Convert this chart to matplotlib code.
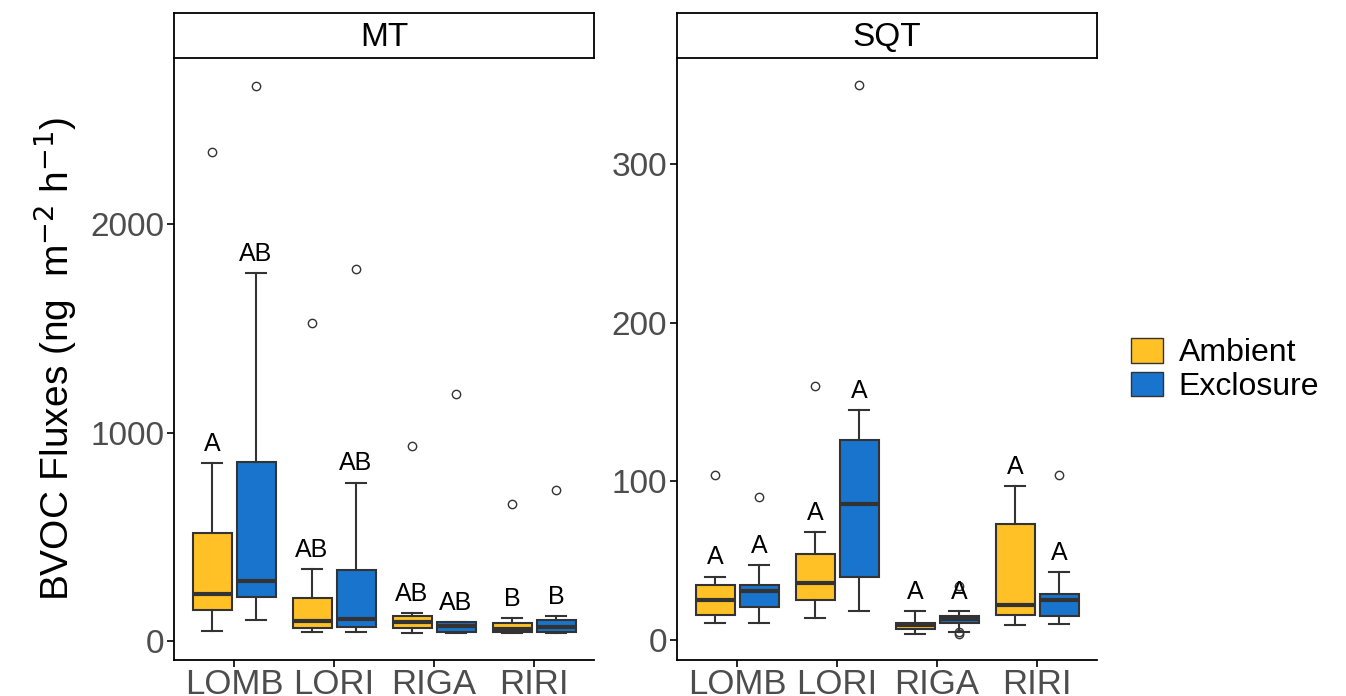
import matplotlib.pyplot as plt
from matplotlib.patches import Patch

plt.rcParams['font.family'] = ['Liberation Sans', 'DejaVu Sans']

sites = ['LOMB', 'LORI', 'RIGA', 'RIRI']
groups = ['Ambient', 'Exclosure']
colors = ['#FFC125', '#1874CD']

# per compound: [site][group] = (whislo, q1, med, q3, whishi, outliers)
mt_stats = [
    [(48, 150, 225, 520, 855, [2345]), (100, 210, 290, 860, 1765, [2660])],
    [(43, 62, 96, 205, 345, [1525]), (43, 67, 105, 340, 760, [1785])],
    [(38, 62, 91, 120, 135, [935]), (38, 43, 72, 91, 91, [1185])],
    [(38, 43, 57, 86, 110, [655]), (38, 43, 67, 100, 120, [725])],
]
mt_letters = [['A', 'AB'], ['AB', 'AB'], ['AB', 'AB'], ['B', 'B']]

sqt_stats = [
    [(11, 16, 25, 35, 40, [104]), (11, 21, 31, 35, 47, [90])],
    [(14, 25, 36, 54, 68, [160]), (18, 40, 86, 126, 145, [350])],
    [(4, 7, 9.5, 11, 18, []), (5, 11, 13, 15, 18, [34, 5, 4])],
    [(9.5, 16, 22, 73, 97, []), (10, 15, 25, 29, 43, [104])],
]
sqt_letters = [['A', 'A'], ['A', 'A'], ['A', 'A'], ['A', 'A']]

fig = plt.figure(figsize=(13.46, 6.96), dpi=100)
W, H = 1346, 696


def panel(x0, title, stats, letters, ylim, yticks, span):
    ax = fig.add_axes([x0 / W, 1 - 660 / H, 420 / W, 602 / H])
    sax = fig.add_axes([x0 / W, 1 - 58 / H, 420 / W, 45 / H])
    sax.set_xticks([]); sax.set_yticks([])
    for s in sax.spines.values():
        s.set_linewidth(1.3)
    sax.text(0.5, 0.45, title, ha='center', va='center', fontsize=24,
             transform=sax.transAxes)
    for i, site in enumerate(stats):
        for j, st in enumerate(site):
            lo, q1, med, q3, hi, fl = st
            pos = i + 1 + (j - 0.5) * 0.44
            ax.bxp([dict(whislo=lo, q1=q1, med=med, q3=q3, whishi=hi, fliers=fl)],
                   positions=[pos], widths=0.39, patch_artist=True,
                   boxprops=dict(facecolor=colors[j], edgecolor='#333333', linewidth=1.5),
                   medianprops=dict(color='#333333', linewidth=3),
                   whiskerprops=dict(color='#333333', linewidth=1.5),
                   capprops=dict(color='#333333', linewidth=1.5),
                   flierprops=dict(marker='o', markerfacecolor='none',
                                   markeredgecolor='#333333', markersize=6))
            ax.text(pos, hi + span * 0.012, letters[i][j], ha='center',
                    va='bottom', fontsize=18)
    ax.set_xlim(0.4, 4.6)
    ax.set_ylim(*ylim)
    ax.set_xticks(range(1, 5))
    ax.set_xticklabels(sites, fontsize=25, color='#4D4D4D')
    ax.set_yticks(yticks)
    ax.set_yticklabels([str(t) for t in yticks], fontsize=24, color='#4D4D4D')
    ax.tick_params(length=5, width=1.2, pad=2)
    ax.tick_params(axis='x', pad=1)
    for s in ['top', 'right']:
        ax.spines[s].set_visible(False)
    for s in ['left', 'bottom']:
        ax.spines[s].set_linewidth(1.3)
    return ax


ax1 = panel(174, 'MT', mt_stats, mt_letters, (-91, 2796), [0, 1000, 2000], 2887)
ax2 = panel(677, 'SQT', sqt_stats, sqt_letters, (-12.6, 367), [0, 100, 200, 300], 380)
ax1.set_ylabel('BVOC Fluxes (ng  m$^{-2}$ h$^{-1}$)', fontsize=28, labelpad=8)

handles = [Patch(facecolor=c, edgecolor='#333333', label=g) for c, g in zip(colors, groups)]
fig.legend(handles=handles, loc='center left', bbox_to_anchor=(1118 / W, 1 - 370 / H),
           frameon=False, fontsize=23, handlelength=1.0, handleheight=0.8,
           labelspacing=0.1, handletextpad=0.5, borderaxespad=0)

fig.savefig('out.png', dpi=100)
